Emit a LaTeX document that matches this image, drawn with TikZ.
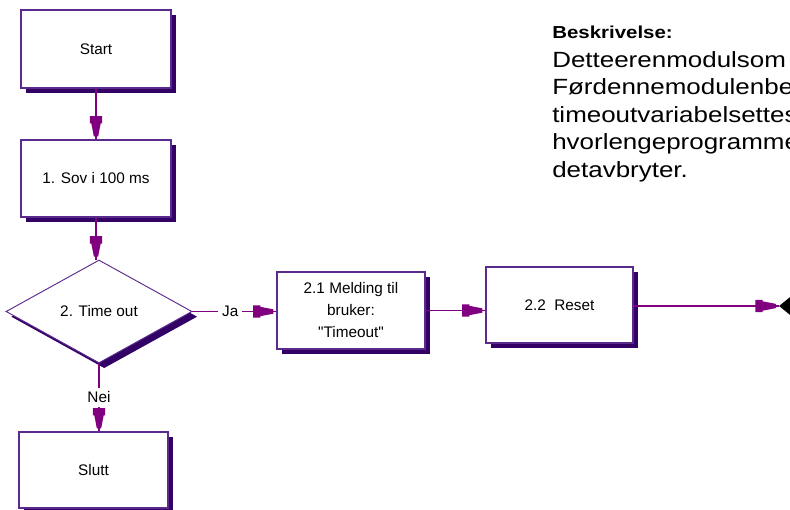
\documentclass[tikz,border=0pt]{standalone}
\usepackage{fontspec}
\setmainfont{Liberation Sans}[Ligatures=TeXOff]
\newfontfamily\descfont[FakeStretch=1.18]{Liberation Sans}
\usetikzlibrary{shapes.geometric,shadows}
\definecolor{boxline}{HTML}{5A2A8C}
\definecolor{shadowc}{HTML}{330066}
\definecolor{wire}{HTML}{800080}

\pgfdeclarearrow{
  name=Plug,
  setup code={
    \pgfarrowssettipend{0pt}
    \pgfarrowssetlineend{0pt}
    \pgfarrowssetbackend{-18pt}
    \pgfarrowshullpoint{0pt}{0pt}
    \pgfarrowshullpoint{-18pt}{5pt}
    \pgfarrowshullpoint{-18pt}{-5pt}
  },
  drawing code={
    \pgfpathmoveto{\pgfqpoint{-2.2pt}{1.6pt}}
    \pgfpathlineto{\pgfqpoint{-12pt}{3.5pt}}
    \pgfpathlineto{\pgfqpoint{-12pt}{4.6pt}}
    \pgfpathlineto{\pgfqpoint{-17.5pt}{4.6pt}}
    \pgfpathlineto{\pgfqpoint{-17.5pt}{-4.6pt}}
    \pgfpathlineto{\pgfqpoint{-12pt}{-4.6pt}}
    \pgfpathlineto{\pgfqpoint{-12pt}{-3.5pt}}
    \pgfpathlineto{\pgfqpoint{-2.2pt}{-1.6pt}}
    \pgfpathclose
    \pgfusepathqfill
  }
}

\tikzset{
  boxfont/.style={font=\fontsize{11.5}{16.5}\selectfont},
  flowbox/.style={rectangle, draw=boxline, line width=0.9pt, fill=white,
    inner sep=2pt, align=center, boxfont,
    drop shadow={shadow xshift=3.9pt, shadow yshift=-3.9pt, opacity=1, fill=shadowc}},
  decision/.style={diamond, draw=boxline, line width=0.7pt, fill=white,
    inner sep=0pt, align=center, boxfont,
    drop shadow={shadow xshift=3.9pt, shadow yshift=-3.9pt, opacity=1, fill=shadowc}},
  conn/.style={draw=wire, line width=1pt, -Plug},
  edgelabel/.style={fill=white, inner sep=3pt, boxfont},
  offpage/.style={diamond, fill=black, draw=none, inner sep=0pt,
    minimum width=16.5pt, minimum height=13.5pt}
}

\begin{document}
\begin{tikzpicture}[x=0.75pt,y=-0.75pt]
\useasboundingbox (0,0) rectangle (790,510);
\clip (0,0) rectangle (790,510);

\node[flowbox, minimum width=112.5pt, minimum height=58.5pt] (start) at (96,49) {Start};
\node[flowbox, minimum width=112.5pt, minimum height=57.75pt] (sov) at (96,178.5) {1. Sov i 100 ms};
\node[decision, minimum width=139.5pt, minimum height=77.25pt] (tout) at (99,311.5) {2. Time out};
\node[flowbox, minimum width=111pt, minimum height=57.75pt] (meld) at (351,310.5) {2.1 Melding til\\bruker:\\"Timeout"};
\node[flowbox, minimum width=110.25pt, minimum height=57pt] (reset) at (559.5,305) {2.2~ Reset};
\node[flowbox, minimum width=111.75pt, minimum height=57pt] (slutt) at (93.5,470) {Slutt};
\node[offpage] (off) at (790,306) {};

\draw[conn] (start.south) -- (sov.north);
\draw[conn] (sov.south) -- (sov.south |- tout.north);
\draw[conn] (tout.east) -- (tout.east -| meld.west) node[pos=0.45, edgelabel] (ja) {Ja};
\draw[conn] (tout.south) -- (tout.south |- slutt.north) node[midway, edgelabel] (nei) {Nei};
\draw[conn] (meld.east) -- (meld.east -| reset.west);
\draw[conn] (reset.east |- off.west) -- (off.west);

\node[anchor=base west, inner sep=0pt, font=\descfont\bfseries\fontsize{13}{15}\selectfont] (head) at (552,39) {Beskrivelse:};
\node[anchor=base west, inner sep=0pt, align=left, font=\descfont\fontsize{16.5}{20.6}\selectfont] (desc) at (552,177)
  {Detteerenmodulsom\\Førdennemodulenbe\\timeoutvariabelsettes\\hvorlengeprogramme\\detavbryter.};
\end{tikzpicture}
\end{document}
